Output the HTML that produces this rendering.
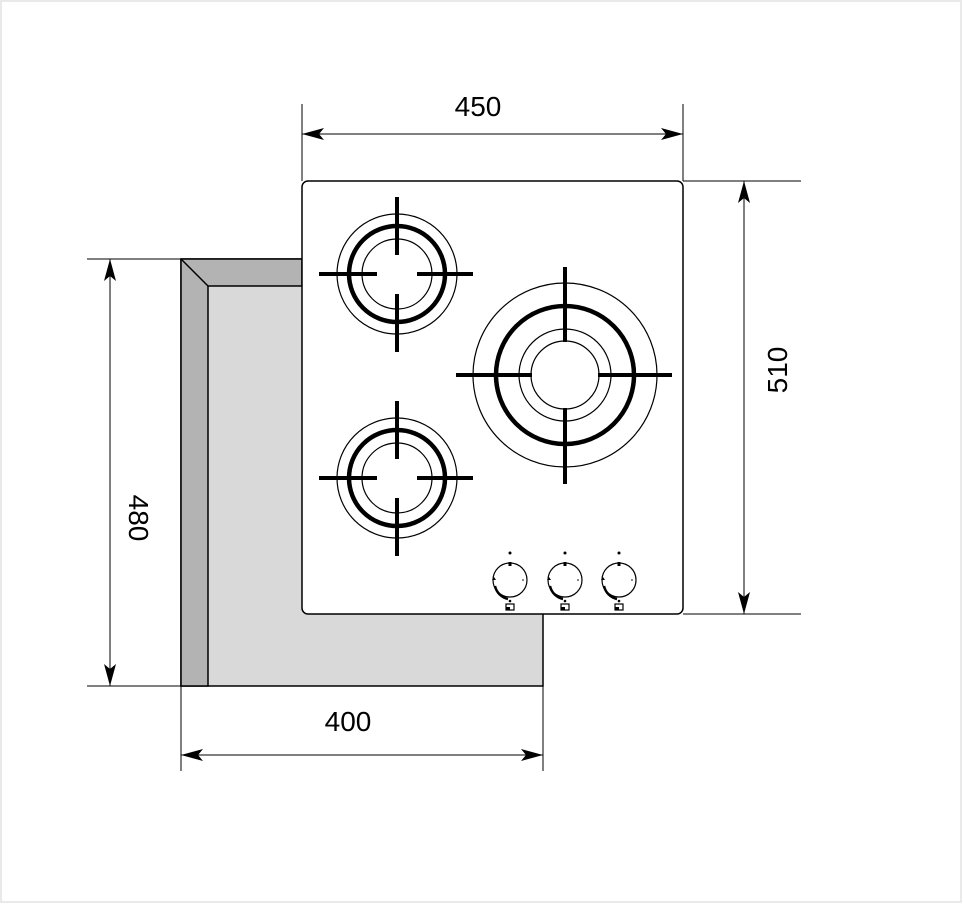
<!DOCTYPE html>
<html><head><style>html,body{margin:0;padding:0;background:#fff}svg{display:block}</style></head><body>
<svg width="963" height="904" viewBox="0 0 963 904" xmlns="http://www.w3.org/2000/svg" font-family="Liberation Sans, sans-serif">
<defs>
<marker id="a" viewBox="0 0 22 12" refX="22" refY="6" markerWidth="22" markerHeight="12" markerUnits="userSpaceOnUse" orient="auto-start-reverse"><path d="M0,0 L22,6 L0,12 L5,6 Z" fill="#000"/></marker>
<g id="sb" fill="none" stroke="#000">
<circle r="60" stroke-width="1.2"/><circle r="48" stroke-width="4.5"/><circle r="35" stroke-width="1.2"/>
<path d="M-78,0H-20M20,0H76M0,-77V-19M0,20V78" stroke-width="4"/>
</g>
<g id="kn" fill="none" stroke="#000">
<circle r="17" stroke-width="1.2"/>
<path d="M-15,6 A17,17 0 0 0 -2,19" stroke-width="2.5"/>
<circle cy="-27" r="1.5" fill="#000" stroke="none"/>
<rect x="-1.5" y="-18" width="3" height="4" fill="#000" stroke="none"/>
<circle cx="13" r="0.8" fill="#000" stroke="none"/>
<path d="M-16,-3l2,3h-4z" fill="#000" stroke="none"/>
<circle cy="21" r="1.3" fill="#000" stroke="none"/>
<rect x="-4" y="24" width="8" height="6" stroke-width="1.2"/>
<rect x="-4" y="27" width="4" height="3" fill="#000" stroke="none"/>
</g>
</defs>
<rect x="1" y="1" width="960" height="901" fill="#fff" stroke="#e2e2e2" stroke-width="1.5"/>
<rect x="181" y="259" width="362" height="427" fill="#d9d9d9" stroke="#000" stroke-width="1.5"/>
<polygon points="181,259 302,259 302,286 208,286 208,686 181,686" fill="#b3b3b3" stroke="#000" stroke-width="1.5"/>
<line x1="181" y1="259" x2="208" y2="286" stroke="#000" stroke-width="1.5"/>
<rect x="302" y="181" width="381" height="433" rx="6" fill="#fff" stroke="#000" stroke-width="1.5"/>
<use href="#sb" x="397" y="274"/>
<use href="#sb" x="397" y="478"/>
<g fill="none" stroke="#000" transform="translate(565,375)">
<circle r="92" stroke-width="1.2"/><circle r="69" stroke-width="4.5"/><circle r="46" stroke-width="1.2"/><circle r="34" stroke-width="1.2"/>
<path d="M-109,0H-33M33,0H107M0,-108V-33M0,33V109" stroke-width="4"/>
</g>
<use href="#kn" x="510" y="580"/>
<use href="#kn" x="565" y="580"/>
<use href="#kn" x="619" y="580"/>
<g stroke="#000" stroke-width="1" fill="none">
<path d="M302,104V181M683,104V181M683,181H801M683,614H801M87,259H181M87,686H181M181,686V771M543,614V771"/>
<line x1="302" y1="134" x2="683" y2="134" marker-start="url(#a)" marker-end="url(#a)"/>
<line x1="744" y1="181" x2="744" y2="614" marker-start="url(#a)" marker-end="url(#a)"/>
<line x1="110" y1="259" x2="110" y2="686" marker-start="url(#a)" marker-end="url(#a)"/>
<line x1="181" y1="755" x2="543" y2="755" marker-start="url(#a)" marker-end="url(#a)"/>
</g>
<g font-size="28" fill="#000" text-anchor="middle">
<text x="478" y="116">450</text>
<text x="348" y="731">400</text>
<text transform="translate(787,370) rotate(-90)">510</text>
<text transform="translate(129,518) rotate(90)">480</text>
</g>
</svg>
</body></html>
